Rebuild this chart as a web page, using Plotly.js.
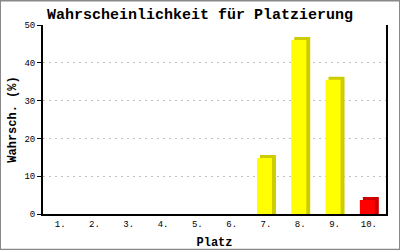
<!DOCTYPE html>
<html><head><meta charset="utf-8">
<script src="https://cdn.plot.ly/plotly-3.0.1.min.js"></script>
<style>html,body{margin:0;padding:0;background:#fff}#c{width:400px;height:250px}</style>
</head><body><div id="c"></div>
<script>
const categories = ["1.","2.","3.","4.","5.","6.","7.","8.","9.","10."];
const values = [0,0,0,0,0,0,14.8,46.0,35.5,3.7];
const frontColors = ["#ffff00","#ffff00","#ffff00","#ffff00","#ffff00","#ffff00","#ffff00","#ffff00","#ffff00","#ff0000"];
const sideColors = ["#cccc00","#cccc00","#cccc00","#cccc00","#cccc00","#cccc00","#cccc00","#cccc00","#cccc00","#cc0000"];
const yTicks = [0,10,20,30,40,50];

const depthY = 0.8;
const sideVals = values.map(v => v > 0 ? v + depthY : 0);

const mono = "Liberation Mono, DejaVu Sans Mono, monospace";
const traces = [
  {type:"bar", x:categories, y:sideVals, marker:{color:sideColors, line:{width:0}},
   offset:-0.175, width:0.466, hoverinfo:"skip", showlegend:false},
  {type:"bar", x:categories, y:values, marker:{color:frontColors, line:{width:0}},
   offset:-0.262, width:0.437, showlegend:false}
];
const layout = {
  width:400, height:250,
  margin:{l:43, r:14, t:25, b:36, pad:0},
  paper_bgcolor:"#fff", plot_bgcolor:"#fff",
  barmode:"overlay",
  title:{text:"Wahrscheinlichkeit für Platzierung", font:{family:mono, size:15, color:"#000", weight:"bold"},
         x:0.5, xanchor:"center", y:0.944, yanchor:"middle"},
  xaxis:{type:"category", range:[-0.5,9.5], showline:true, linecolor:"#000", linewidth:2,
         ticks:"", showgrid:false, zeroline:false, fixedrange:true,
         tickfont:{family:mono, size:9, color:"#000"},
         title:{text:"Platz", font:{family:mono, size:12, color:"#000", weight:"bold"}, standoff:9}},
  yaxis:{range:[0,50], tickvals:yTicks, showline:true, linecolor:"#000", linewidth:2, mirror:true,
         ticks:"outside", ticklen:4, tickcolor:"#000", tickwidth:1,
         showgrid:true, gridcolor:"#c0c0c0", griddash:"2px,4px", gridwidth:1,
         zeroline:false, tickfont:{family:mono, size:9, color:"#000"},
         title:{text:"Wahrsch. (%)", font:{family:mono, size:12, color:"#000", weight:"bold"}, standoff:5}},
  shapes:[{type:"rect", xref:"paper", yref:"paper", x0:-0.1254, x1:1.0408, y0:-0.189, y1:1.1296,
           line:{color:"#888888", width:2}, fillcolor:"rgba(0,0,0,0)", layer:"above"}]
};
Plotly.newPlot("c", traces, layout, {staticPlot:true, displayModeBar:false});
</script></body></html>
